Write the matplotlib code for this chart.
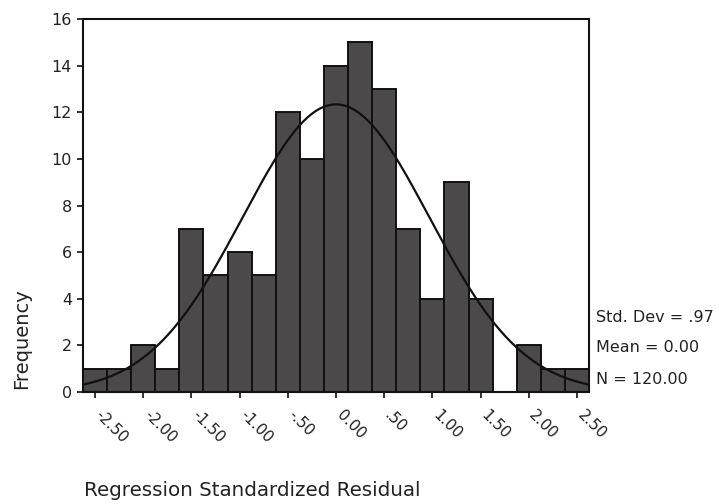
import numpy as np
import matplotlib
matplotlib.use("Agg")
import matplotlib.pyplot as plt
from matplotlib.transforms import ScaledTranslation

# Data
bin_centers = [-2.50, -2.25, -2.00, -1.75, -1.50, -1.25, -1.00, -0.75, -0.50, -0.25,
               0.00, 0.25, 0.50, 0.75, 1.00, 1.25, 1.50, 1.75, 2.00, 2.25, 2.50]
frequencies = [1, 1, 2, 1, 7, 5, 6, 5, 12, 10, 14, 15, 13, 7, 4, 9, 4, 0, 2, 1, 1]
bin_width = 0.25
tick_values = [-2.5, -2.0, -1.5, -1.0, -0.5, 0.0, 0.5, 1.0, 1.5, 2.0, 2.5]
tick_labels = ["-2.50", "-2.00", "-1.50", "-1.00", "-.50", "0.00", ".50", "1.00", "1.50", "2.00", "2.50"]
std_dev = 0.97
mean = 0.00
n_total = 120.00
y_ticks = [0, 2, 4, 6, 8, 10, 12, 14, 16]

plt.rcParams['font.family'] = ['DejaVu Sans']
fig = plt.figure(figsize=(7.19, 5.04), dpi=100)
ax = fig.add_axes([83/719, 1-392/504, (589-83)/719, (392-19)/504])

ax.bar(bin_centers, frequencies, width=bin_width, color='#4b4949',
       edgecolor='#111111', linewidth=1.4, zorder=2)

xlo = bin_centers[0] - bin_width/2
xhi = bin_centers[-1] + bin_width/2
xs = np.linspace(xlo, xhi, 400)
ys = n_total * bin_width * np.exp(-0.5*((xs-mean)/std_dev)**2) / (std_dev*np.sqrt(2*np.pi))
ax.plot(xs, ys, color='#111111', linewidth=1.6, zorder=3)

ax.set_xlim(xlo, xhi)
ax.set_ylim(0, 16)
ax.set_yticks(y_ticks)
ax.set_yticklabels([str(v) for v in y_ticks], fontsize=11.5, color='#222222')
ax.set_xticks(tick_values)
ax.set_xticklabels(tick_labels, fontsize=11, rotation=-45, ha='left', va='top',
                   rotation_mode='anchor', color='#222222')
ax.tick_params(axis='both', direction='out', length=4, width=1.2, color='#111111')
ax.tick_params(axis='y', pad=4)
ax.tick_params(axis='x', pad=7)
offset = ScaledTranslation(8/100, 0, fig.dpi_scale_trans)
for lbl in ax.get_xticklabels():
    lbl.set_transform(lbl.get_transform() + offset)
for s in ax.spines.values():
    s.set_linewidth(1.5)
    s.set_color('#111111')

fig.text(22/719, 1-339/504, "Frequency", rotation=90, fontsize=14,
         ha='center', va='center', color='#222222')
fig.text(84/719, 1-491/504, "Regression Standardized Residual", fontsize=14.3,
         ha='left', va='center', color='#222222')

fig.text(596/719, 1-318/504, "Std. Dev = .97", fontsize=11.5, ha='left', va='center', color='#222222')
fig.text(596/719, 1-348/504, "Mean = 0.00", fontsize=11.5, ha='left', va='center', color='#222222')
fig.text(596/719, 1-380/504, "N = 120.00", fontsize=11.5, ha='left', va='center', color='#222222')

fig.savefig("out.png", dpi=100)
